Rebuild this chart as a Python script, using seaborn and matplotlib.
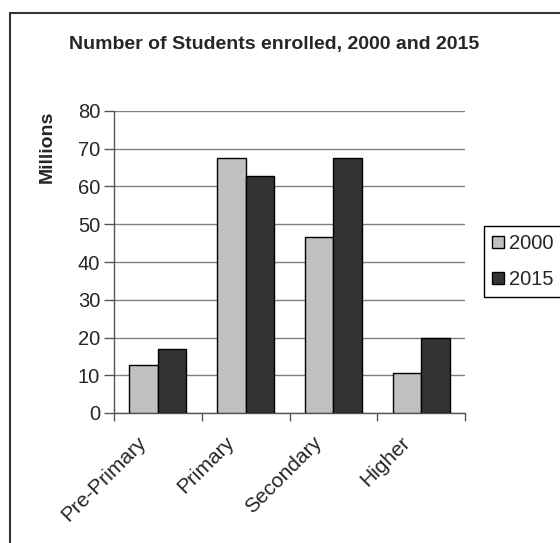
import matplotlib
matplotlib.use("Agg")
import matplotlib.pyplot as plt
import matplotlib.transforms as mtransforms
from matplotlib.patches import Rectangle
import pandas as pd
import seaborn as sns

levels = ["Pre-Primary", "Primary", "Secondary", "Higher"]
years = ["2000", "2015"]
enrolled_2000 = [12.7, 67.5, 46.7, 10.7]
enrolled_2015 = [17.0, 62.8, 67.5, 20.0]
y_ticks = [0, 10, 20, 30, 40, 50, 60, 70, 80]

df = pd.DataFrame({
    "level": levels * 2,
    "year": [years[0]] * 4 + [years[1]] * 4,
    "millions": enrolled_2000 + enrolled_2015,
})

sns.set_style("white")
plt.rcParams["font.family"] = ["Liberation Sans", "DejaVu Sans"]

fig = plt.figure(figsize=(5.6, 5.43), dpi=100)
ax = fig.add_axes([114 / 560, 1 - 413 / 543, (465 - 114) / 560, (413 - 111) / 543])

sns.barplot(data=df, x="level", y="millions", hue="year", order=levels,
            hue_order=years, palette={"2000": "#c0c0c0", "2015": "#333333"},
            width=0.65, edgecolor="black", linewidth=1.0, saturation=1,
            errorbar=None, ax=ax, zorder=3)

ax.set_xlim(-0.5, 3.5)
ax.set_ylim(0, 80)
ax.set_yticks(y_ticks)
ax.yaxis.grid(True, color="#808080", linewidth=1.0, zorder=0)
ax.xaxis.grid(False)
ax.set_axisbelow(True)

# category ticks sit between groups, labels at group centres
ax.set_xticks([-0.5, 0.5, 1.5, 2.5, 3.5])
ax.set_xticklabels([])
ax.set_xticks(range(4), minor=True)
ax.set_xticklabels(levels, minor=True, rotation=45, ha="right",
                   rotation_mode="anchor", fontsize=15)
ax.tick_params(axis="x", which="minor", length=0, pad=10)
ax.tick_params(axis="x", which="major", direction="out", length=6,
               width=1, color="#555555", bottom=True)
ax.tick_params(axis="y", direction="out", length=7, width=1,
               color="#555555", left=True, labelsize=14.5, pad=3)

# nudge the slanted labels left, like the original
shift = mtransforms.ScaledTranslation(-21 / 100, -6 / 100, fig.dpi_scale_trans)
for lab in ax.get_xticklabels(minor=True):
    lab.set_transform(lab.get_transform() + shift)

for s in ["top", "right"]:
    ax.spines[s].set_visible(False)
for s in ["left", "bottom"]:
    ax.spines[s].set_color("#555555")
    ax.spines[s].set_linewidth(1.0)

ax.set_xlabel("")
ax.set_ylabel("Millions", fontsize=14, fontweight="bold")
ax.yaxis.set_label_coords(-0.165, 0.88)

fig.text(274 / 560, 1 - 45 / 543, "Number of Students enrolled, 2000 and 2015",
         ha="center", va="center", fontsize=14, fontweight="bold")

handles, labels = ax.get_legend_handles_labels()
ax.legend(handles, labels, loc="upper left",
          bbox_to_anchor=(484 / 560, 1 - 226 / 543),
          bbox_transform=fig.transFigure, fontsize=14.5, frameon=True,
          fancybox=False, edgecolor="black", framealpha=1,
          handlelength=0.6, handleheight=0.6, handletextpad=0.25,
          borderpad=0.4, labelspacing=0.85, borderaxespad=0)
ax.get_legend().get_frame().set_linewidth(1.0)

# outer chart border
fig.patches.append(Rectangle((10 / 560, -0.5), 2.0, 0.5 + 1 - 13 / 543,
                             transform=fig.transFigure, fill=False,
                             edgecolor="#333333", linewidth=1.5))

fig.savefig("out.png", dpi=100)
